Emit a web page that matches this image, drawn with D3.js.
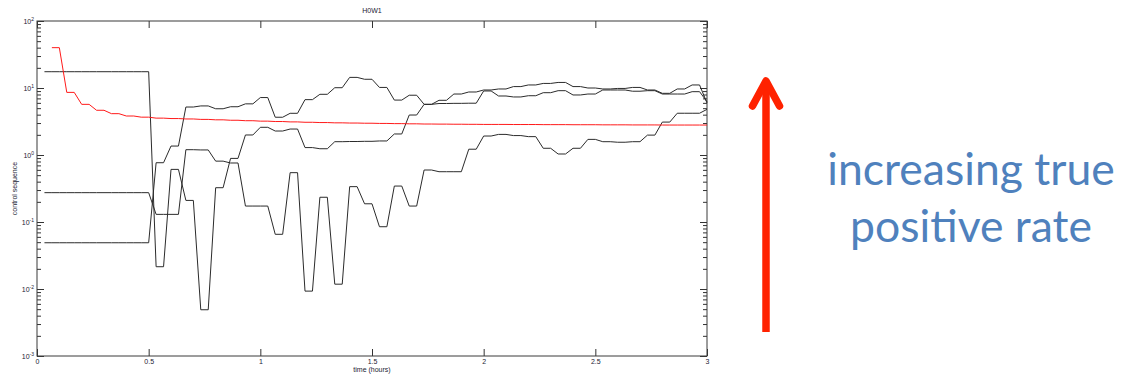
<!DOCTYPE html>
<html>
<head>
<meta charset="utf-8">
<script src="https://cdn.jsdelivr.net/npm/d3@7"></script>
<style>
    body { margin: 0; background: #fff; }
    svg { display: block; }
    .axisText { font-family: 'Liberation Sans', Arial, sans-serif; font-size: 7px; fill: #1b1b33; }
    .tick line { stroke: #333; }
    .note { font-family: Lato, 'Open Sans', sans-serif; fill: #4f81bd; }
</style>
</head>
<body>
<div id="chart"></div>
<script>
// Values are held in 4-minute bins (1/15 hour). Each bin is flat for half a bin, then ramps to the next one.
var binHours = 1 / 15;
var blackStartHours = 1 / 30;

var redRate = [null, 40, 8.6, 5.7, 4.65, 4.14, 3.82, 3.67, 3.55, 3.5,
    3.45, 3.4, 3.35, 3.3, 3.25, 3.2, 3.16, 3.12, 3.08, 3.05,
    3.02, 3.0, 2.98, 2.96, 2.94, 2.92, 2.9, 2.89, 2.88, 2.87,
    2.86, 2.86, 2.85, 2.85, 2.84, 2.84, 2.83, 2.83, 2.82, 2.82,
    2.81, 2.81, 2.8, 2.8, 2.8, 2.8];

var controlA = [17.5, 17.5, 17.5, 17.5, 17.5, 17.5, 17.5, 17.5, 0.0215, 0.61,
    0.21, 0.0049, 0.325, 0.89, 1.99, 2.59, 2.28, 2.44, 1.29, 1.24,
    1.58, 1.59, 1.6, 1.62, 2.06, 3.95, 5.7, 5.87, 5.9, 5.93,
    9.03, 7.6, 7.35, 7.67, 8.51, 9.12, 7.87, 8.13, 9.34, 9.34,
    8.95, 9.12, 8.13, 8.13, 8.81, 6.25];

var controlB = [0.274, 0.274, 0.274, 0.274, 0.274, 0.274, 0.274, 0.274, 0.13, 0.13,
    1.2, 1.19, 0.81, 0.76, 0.173, 0.173, 0.0655, 0.545, 0.0093, 0.234,
    0.0118, 0.337, 0.187, 0.085, 0.344, 0.173, 0.597, 0.563, 0.563, 1.22,
    1.92, 2.03, 1.95, 1.88, 1.26, 1.035, 1.26, 1.71, 1.58, 1.55,
    1.58, 1.98, 3.1, 4.2, 4.2, 4.8];

var controlC = [0.049, 0.049, 0.049, 0.049, 0.049, 0.049, 0.049, 0.049, 0.767, 1.36,
    5.2, 5.4, 4.9, 5.25, 5.8, 7.2, 3.66, 4.19, 6.7, 8.05,
    10.1, 14.4, 13.5, 10.2, 6.6, 7.8, 5.7, 6.55, 8.13, 8.72,
    9.34, 9.67, 10.5, 11.1, 11.7, 12.1, 10.5, 10.0, 9.67, 9.85,
    10.2, 9.34, 8.33, 9.67, 11.1, 5.97];

var xTicks = [0, 0.5, 1, 1.5, 2, 2.5, 3];
var yDecades = [-3, -2, -1, 0, 1, 2];

var titleText = 'H0W1';
var xLabelText = 'time (hours)';
var yLabelText = 'control sequence';
var noteLines = ['increasing true', 'positive rate'];

// Set up an svg area
var svgWidth = 1121;
var svgHeight = 375;

var margin = { top: 21, right: 414, bottom: 19, left: 37 };
var chartWidth = svgWidth - margin.left - margin.right;
var chartHeight = svgHeight - margin.top - margin.bottom;

var svg = d3.select('#chart')
    .append('svg')
    .attr('width', svgWidth)
    .attr('height', svgHeight);

var chartGroup = svg.append('g')
    .attr('transform', `translate(${margin.left}, ${margin.top})`);

var xScale = d3.scaleLinear().domain([0, 3]).range([0, chartWidth]);
var yScale = d3.scaleLog().domain([1e-3, 1e2]).range([chartHeight, 0]);

var majorY = yDecades.map((p) => Math.pow(10, p));
var minorY = [];
yDecades.slice(0, -1).forEach((p) => {
    for (var m = 2; m <= 9; m++) minorY.push(m * Math.pow(10, p));
});

// Axes, ticks pointing inward on all four sides
function drawAxis(axis, tx, ty) {
    var g = chartGroup.append('g')
        .attr('transform', `translate(${tx}, ${ty})`)
        .call(axis);
    g.select('.domain').remove();
    return g;
}

var xBottom = drawAxis(d3.axisBottom(xScale).tickValues(xTicks).tickSizeInner(-7).tickSizeOuter(0)
    .tickPadding(3).tickFormat(d3.format('')), 0, chartHeight);
xBottom.selectAll('text').attr('class', 'axisText').attr('font-size', null).attr('font-family', null);
drawAxis(d3.axisTop(xScale).tickValues(xTicks).tickSizeInner(-7).tickSizeOuter(0).tickFormat(''), 0, 0);

drawAxis(d3.axisLeft(yScale).tickValues(majorY).tickSizeInner(-7).tickSizeOuter(0).tickFormat(''), 0, 0);
drawAxis(d3.axisLeft(yScale).tickValues(minorY).tickSizeInner(-4).tickSizeOuter(0).tickFormat(''), 0, 0);
drawAxis(d3.axisRight(yScale).tickValues(majorY).tickSizeInner(-7).tickSizeOuter(0).tickFormat(''), chartWidth, 0);
drawAxis(d3.axisRight(yScale).tickValues(minorY).tickSizeInner(-4).tickSizeOuter(0).tickFormat(''), chartWidth, 0);

// y labels as 10 with a superscript power
var yLabels = chartGroup.selectAll('.yLabel')
    .data(yDecades)
    .enter()
    .append('text')
    .attr('class', 'axisText')
    .attr('x', -3)
    .attr('y', (d) => yScale(Math.pow(10, d)) + 2.5)
    .attr('text-anchor', 'end');
yLabels.append('tspan').text('10');
yLabels.append('tspan')
    .attr('dy', -3)
    .attr('font-size', '5px')
    .text((d) => d);

// Plot box
chartGroup.append('rect')
    .attr('width', chartWidth)
    .attr('height', chartHeight)
    .attr('fill', 'none')
    .attr('stroke', '#3a3a3a')
    .attr('stroke-width', 1);

// Series
function binsToPoints(values, start) {
    var points = [];
    values.forEach((v, j) => {
        if (v === null) return;
        var t0 = j * binHours;
        [t0, t0 + binHours / 2].forEach((t) => {
            if (t >= start - 1e-9 && t <= 3 + 1e-9) points.push({ t: t, v: v });
        });
    });
    return points;
}

var line = d3.line()
    .x((d) => xScale(d.t))
    .y((d) => yScale(d.v));

var series = [
    { values: controlA, start: blackStartHours, color: '#2b2b2b' },
    { values: controlB, start: blackStartHours, color: '#2b2b2b' },
    { values: controlC, start: blackStartHours, color: '#2b2b2b' },
    { values: redRate, start: 0, color: '#ff1a1a' }
];

chartGroup.selectAll('.series')
    .data(series)
    .enter()
    .append('path')
    .attr('class', 'series')
    .attr('d', (d) => line(binsToPoints(d.values, d.start)))
    .attr('fill', 'none')
    .attr('stroke', (d) => d.color)
    .attr('stroke-width', 1);

// Titles
chartGroup.append('text')
    .attr('class', 'axisText')
    .attr('x', chartWidth / 2)
    .attr('y', -8)
    .attr('text-anchor', 'middle')
    .text(titleText);

chartGroup.append('text')
    .attr('class', 'axisText')
    .attr('x', chartWidth / 2)
    .attr('y', chartHeight + 16)
    .attr('text-anchor', 'middle')
    .text(xLabelText);

chartGroup.append('text')
    .attr('class', 'axisText')
    .attr('transform', `translate(-20, ${chartHeight / 2}) rotate(-90)`)
    .attr('text-anchor', 'middle')
    .text(yLabelText);

// Annotation arrow and note
var arrowX = 766;
var arrowTop = 81;
var arrowBottom = 332;
var arrowGroup = svg.append('g')
    .attr('stroke', '#ff2200')
    .attr('stroke-width', 7.5)
    .attr('fill', 'none');

arrowGroup.append('line')
    .attr('x1', arrowX).attr('y1', arrowBottom)
    .attr('x2', arrowX).attr('y2', arrowTop + 2);

arrowGroup.append('polyline')
    .attr('points', `${arrowX - 13.5},${arrowTop + 25} ${arrowX},${arrowTop} ${arrowX + 13.5},${arrowTop + 25}`)
    .attr('stroke-linecap', 'round')
    .attr('stroke-linejoin', 'round');

svg.selectAll('.note')
    .data(noteLines)
    .enter()
    .append('text')
    .attr('class', 'note')
    .attr('x', 971)
    .attr('y', (d, i) => 185 + i * 57)
    .attr('text-anchor', 'middle')
    .attr('font-size', '44.5px')
    .text((d) => d);
</script>
</body>
</html>
